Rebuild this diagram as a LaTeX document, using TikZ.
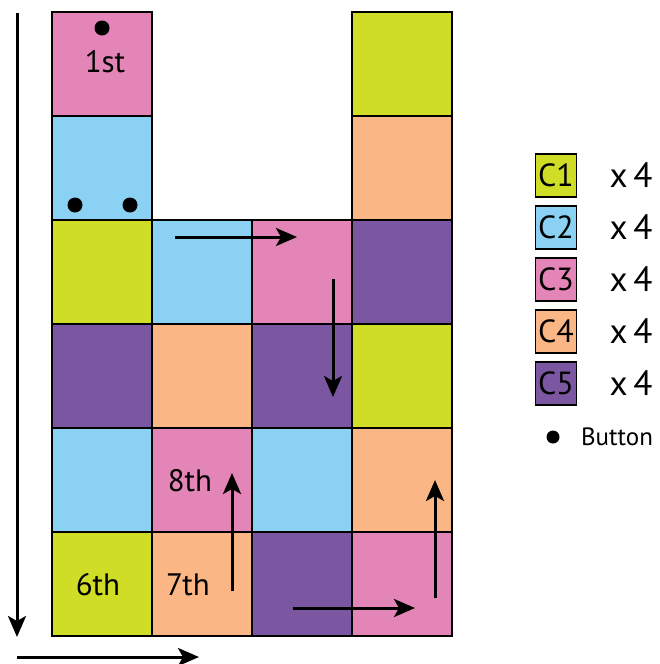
\documentclass[tikz,border=0pt]{standalone}
\usepackage{fontspec}
\setmainfont{PT Sans}
\usepackage{xcolor}
\definecolor{cone}{RGB}{207,221,38}
\definecolor{ctwo}{RGB}{138,209,243}
\definecolor{cthree}{RGB}{227,133,182}
\definecolor{cfour}{RGB}{250,182,132}
\definecolor{cfive}{RGB}{123,87,162}
\usepackage{tikz}
\usetikzlibrary{arrows.meta}
\tikzset{
    cell/.style={draw, line width=2.5pt, minimum width=100pt, minimum height=104pt, inner sep=0pt},
    key/.style={draw, line width=1.5pt, minimum width=41pt, minimum height=43pt, inner sep=0pt, font=\fontsize{32}{34}\selectfont},
    tag/.style={font=\fontsize{31}{34}\selectfont, inner sep=0pt},
    count/.style={font=\fontsize{35}{38}\selectfont, inner sep=0pt},
    button/.style={fill, circle, minimum size=15pt, inner sep=0pt},
    move/.style={-{Stealth[length=21pt, width=18pt, inset=5pt]}, line width=3pt}
}
\begin{document}
\begin{tikzpicture}[x=1pt, y=-1pt]
      \useasboundingbox (0,0) rectangle (660,664);

      % grid of coloured cells
      \foreach \col/\row/\clr in {0/0/cthree, 0/1/ctwo, 0/2/cone, 0/3/cfive, 0/4/ctwo, 0/5/cone,
                                  1/2/ctwo, 1/3/cfour, 1/4/cthree, 1/5/cfour,
                                  2/2/cthree, 2/3/cfive, 2/4/ctwo, 2/5/cfive,
                                  3/0/cone, 3/1/cfour, 3/2/cfive, 3/3/cone, 3/4/cfour, 3/5/cthree}
          \node[cell, fill=\clr] (cell-\col-\row) at (102+100*\col, 64+104*\row) {};

      \node[tag] (first) at (105,62) {1st};
      \node[tag] (sixth) at (98,585) {6th};
      \node[tag] (seventh) at (188,585) {7th};
      \node[tag] (eighth) at (190,481) {8th};

      \node[button] (btn-top) at (102,28) {};
      \node[button] (btn-left) at (75,205) {};
      \node[button] (btn-right) at (130,205) {};

      % legend
      \path
          (556,175.5) node[key, fill=cone] (key-one) {C1}
          +(75,0) node[count] (count-one) {x\,4}
          (556,227.5) node[key, fill=ctwo] (key-two) {C2}
          +(75,0) node[count] (count-two) {x\,4}
          (556,279.5) node[key, fill=cthree] (key-three) {C3}
          +(75,0) node[count] (count-three) {x\,4}
          (556,331.5) node[key, fill=cfour] (key-four) {C4}
          +(75,0) node[count] (count-four) {x\,4}
          (556,383.5) node[key, fill=cfive] (key-five) {C5}
          +(75,0) node[count] (count-five) {x\,4}
          (553,437) node[button, minimum size=13pt] (key-button) {}
          (617,437) node[font=\fontsize{25}{28}\selectfont, inner sep=0pt] (key-button-text) {Button};

      % arrows
      \coordinate (down-start) at (17,13);
      \coordinate (down-end) at (17,637);
      \coordinate (across-start) at (17,657);
      \coordinate (across-end) at (199,657);
      \coordinate (step-a-start) at (175,237);
      \coordinate (step-a-end) at (297,237);
      \coordinate (step-b-start) at (333,279);
      \coordinate (step-b-end) at (333,397);
      \coordinate (step-c-start) at (232,591);
      \coordinate (step-c-end) at (232,473);
      \coordinate (step-d-start) at (293,608);
      \coordinate (step-d-end) at (415,608);
      \coordinate (step-e-start) at (435,598);
      \coordinate (step-e-end) at (435,480);

      \draw[move] (down-start) -- (down-end);
      \draw[move] (across-start) -- (across-end);
      \draw[move] (step-a-start) -- (step-a-end);
      \draw[move] (step-b-start) -- (step-b-end);
      \draw[move] (step-c-start) -- (step-c-end);
      \draw[move] (step-d-start) -- (step-d-end);
      \draw[move] (step-e-start) -- (step-e-end);
    \end{tikzpicture}
\end{document}
